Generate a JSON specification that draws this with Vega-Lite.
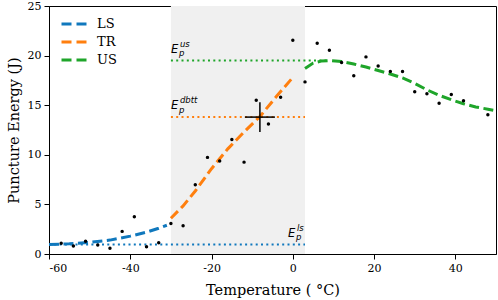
{
  "$schema": "https://vega.github.io/schema/vega-lite/v6.json",
  "width": 447,
  "height": 248,
  "autosize": {"type": "none"},
  "padding": {"left": 49, "top": 6, "right": 2, "bottom": 46},
  "background": "white",
  "config": {
    "view": {"stroke": "black", "strokeWidth": 1},
    "axis": {
      "domainColor": "black", "tickColor": "black", "labelColor": "black", "titleColor": "black",
      "labelFont": "DejaVu Serif", "titleFont": "DejaVu Serif", "labelFontSize": 11, "titleFontSize": 14.5,
      "titleFontWeight": "normal", "grid": false, "tickSize": 5, "labelPadding": 3
    },
    "legend": {"labelFont": "DejaVu Serif", "labelFontSize": 13, "labelColor": "black"}
  },
  "datasets": {
    "curves": [
      {"series": "LS", "x": -60, "y": 0.95}, {"series": "LS", "x": -55, "y": 1.03}, {"series": "LS", "x": -50, "y": 1.18},
      {"series": "LS", "x": -45, "y": 1.4}, {"series": "LS", "x": -40, "y": 1.8}, {"series": "LS", "x": -36, "y": 2.2},
      {"series": "LS", "x": -33, "y": 2.6}, {"series": "LS", "x": -31, "y": 2.9},
      {"series": "TR", "x": -30, "y": 3.6}, {"series": "TR", "x": -27, "y": 4.85}, {"series": "TR", "x": -24, "y": 6.35},
      {"series": "TR", "x": -20, "y": 8.6}, {"series": "TR", "x": -16, "y": 10.6}, {"series": "TR", "x": -12, "y": 12.3},
      {"series": "TR", "x": -8, "y": 13.9}, {"series": "TR", "x": -4, "y": 15.9}, {"series": "TR", "x": 0, "y": 17.8},
      {"series": "US", "x": 3, "y": 18.7}, {"series": "US", "x": 5, "y": 19.25}, {"series": "US", "x": 7, "y": 19.45},
      {"series": "US", "x": 9, "y": 19.5}, {"series": "US", "x": 12, "y": 19.4}, {"series": "US", "x": 15, "y": 19.15},
      {"series": "US", "x": 18, "y": 18.85}, {"series": "US", "x": 21, "y": 18.5}, {"series": "US", "x": 24, "y": 18.15},
      {"series": "US", "x": 27, "y": 17.75}, {"series": "US", "x": 30, "y": 17.2}, {"series": "US", "x": 33, "y": 16.55},
      {"series": "US", "x": 36, "y": 16.0}, {"series": "US", "x": 39, "y": 15.55}, {"series": "US", "x": 42, "y": 15.15},
      {"series": "US", "x": 45, "y": 14.82}, {"series": "US", "x": 48, "y": 14.6}, {"series": "US", "x": 50, "y": 14.45}
    ],
    "levels": [
      {"series": "LS", "x": -60, "x2": 3, "y": 0.95, "key": "ls", "lx": -1.2},
      {"series": "TR", "x": -30, "x2": 3, "y": 13.8, "key": "dbtt", "lx": -30},
      {"series": "US", "x": -30, "x2": 9, "y": 19.5, "key": "us", "lx": -30}
    ],
    "points": [
      {"x": -57, "y": 1.08}, {"x": -54, "y": 0.81}, {"x": -51, "y": 1.28}, {"x": -48, "y": 0.91},
      {"x": -45, "y": 0.57}, {"x": -42, "y": 2.28}, {"x": -39, "y": 3.76}, {"x": -36, "y": 0.74},
      {"x": -33, "y": 1.14}, {"x": -30, "y": 3.07}, {"x": -27, "y": 2.85}, {"x": -24, "y": 6.98},
      {"x": -21, "y": 9.74}, {"x": -18, "y": 9.37}, {"x": -15, "y": 11.55}, {"x": -12, "y": 9.26},
      {"x": -9, "y": 15.5}, {"x": -6, "y": 13.1}, {"x": -3, "y": 15.8}, {"x": 0, "y": 21.55},
      {"x": 3, "y": 17.35}, {"x": 6, "y": 21.25}, {"x": 9, "y": 20.54}, {"x": 12, "y": 19.3},
      {"x": 15, "y": 17.96}, {"x": 18, "y": 19.87}, {"x": 21, "y": 18.96}, {"x": 24, "y": 18.4},
      {"x": 27, "y": 18.4}, {"x": 30, "y": 16.35}, {"x": 33, "y": 16.15}, {"x": 36, "y": 15.2},
      {"x": 39, "y": 16.08}, {"x": 42, "y": 15.44}, {"x": 48, "y": 14.03}
    ],
    "dbtt": [
      {"x": -8.1, "y": 13.8, "xlo": -11.8, "xhi": -4.4, "ylo": 12.3, "yhi": 15.3}
    ],
    "shade": [{"x": -30, "x2": 3}]
  },
  "layer": [
    {
      "data": {"name": "shade"},
      "mark": {"type": "rect", "color": "#f0f0f0"},
      "encoding": {
        "x": {"field": "x", "type": "quantitative", "scale": {"domain": [-60, 50], "nice": false, "zero": false},
          "axis": {"title": "Temperature ( °C)", "values": [-60, -40, -20, 0, 20, 40], "labelExpr": "datum.value + ''", "titlePadding": 10}},
        "x2": {"field": "x2"},
        "y": {"datum": 0, "type": "quantitative", "scale": {"domain": [0, 25], "nice": false},
          "axis": {"title": "Puncture Energy (J)", "values": [0, 5, 10, 15, 20, 25], "titlePadding": 6}},
        "y2": {"datum": 25}
      }
    },
    {
      "data": {"name": "curves"},
      "mark": {"type": "line", "strokeWidth": 3, "strokeDash": [10, 4.5]},
      "encoding": {
        "x": {"field": "x", "type": "quantitative"},
        "y": {"field": "y", "type": "quantitative"},
        "color": {"field": "series", "type": "nominal", "scale": {"domain": ["LS", "TR", "US"], "range": ["#1078bd", "#ff7f0e", "#1fa52a"]},
          "legend": {"title": null, "orient": "none", "legendX": 11, "legendY": 11, "symbolType": "stroke", "symbolSize": 625,
            "symbolStrokeWidth": 3, "symbolDash": [10, 5], "clipHeight": 14, "rowPadding": 4, "labelOffset": 9, "padding": 0}}
      }
    },
    {
      "data": {"name": "levels"},
      "mark": {"type": "rule", "strokeWidth": 2, "strokeDash": [2, 3.3]},
      "encoding": {
        "x": {"field": "x", "type": "quantitative"},
        "x2": {"field": "x2"},
        "y": {"field": "y", "type": "quantitative"},
        "color": {"field": "series", "type": "nominal",
          "legend": {"title": null, "orient": "none", "legendX": 11, "legendY": 11, "symbolType": "stroke", "symbolSize": 625,
            "symbolStrokeWidth": 3, "symbolDash": [10, 5], "clipHeight": 14, "rowPadding": 4, "labelOffset": 9, "padding": 0}}
      }
    },
    {
      "data": {"name": "points"},
      "mark": {"type": "point", "filled": true, "color": "black", "size": 12, "opacity": 1},
      "encoding": {
        "x": {"field": "x", "type": "quantitative"},
        "y": {"field": "y", "type": "quantitative"}
      }
    },
    {
      "data": {"name": "dbtt"},
      "mark": {"type": "rule", "color": "black", "strokeWidth": 1.5},
      "encoding": {
        "x": {"field": "xlo", "type": "quantitative"},
        "x2": {"field": "xhi"},
        "y": {"field": "y", "type": "quantitative"}
      }
    },
    {
      "data": {"name": "dbtt"},
      "mark": {"type": "rule", "color": "black", "strokeWidth": 1.5},
      "encoding": {
        "x": {"field": "x", "type": "quantitative"},
        "y": {"field": "ylo", "type": "quantitative"},
        "y2": {"field": "yhi"}
      }
    },
    {
      "data": {"name": "levels"},
      "mark": {"type": "text", "text": "E", "font": "DejaVu Sans", "fontStyle": "italic", "fontSize": 11.5, "align": "left", "baseline": "alphabetic", "dy": -8, "color": "black"},
      "encoding": {
        "x": {"field": "lx", "type": "quantitative"},
        "y": {"field": "y", "type": "quantitative"}
      }
    },
    {
      "data": {"name": "levels"},
      "mark": {"type": "text", "text": "p", "font": "DejaVu Sans", "fontStyle": "italic", "fontSize": 8.5, "align": "left", "baseline": "alphabetic", "dx": 8, "dy": -4.5, "color": "black"},
      "encoding": {
        "x": {"field": "lx", "type": "quantitative"},
        "y": {"field": "y", "type": "quantitative"}
      }
    },
    {
      "data": {"name": "levels"},
      "mark": {"type": "text", "font": "DejaVu Sans", "fontStyle": "italic", "fontSize": 8.5, "align": "left", "baseline": "alphabetic", "dx": 9, "dy": -14, "color": "black"},
      "encoding": {
        "x": {"field": "lx", "type": "quantitative"},
        "y": {"field": "y", "type": "quantitative"},
        "text": {"field": "key"}
      }
    }
  ]
}
